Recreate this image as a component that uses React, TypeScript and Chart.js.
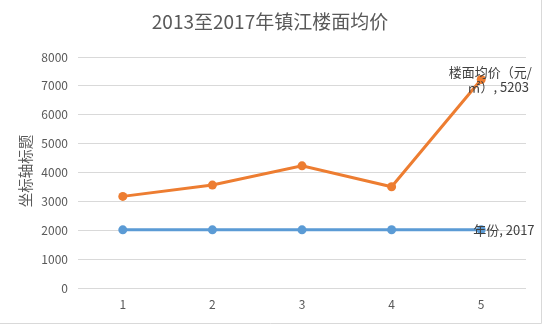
import React, { useEffect, useRef } from "react";
import { Chart, registerables } from "chart.js";

Chart.register(...registerables);

const categories = ["1", "2", "3", "4", "5"];
const yearValues = [2013, 2014, 2015, 2016, 2017];
const priceValues = [1160, 1550, 2215, 1490, 5203];
const titleText = "2013至2017年镇江楼面均价";
const yTitleText = "坐标轴标题";
const yearName = "年份";
const priceName = "楼面均价（元/㎡）";

const FONT = "'Noto Sans CJK SC', 'Noto Sans', sans-serif";

const decorPlugin = {
  id: "decor",
  afterDraw(chart: any) {
    const ctx = chart.ctx;
    ctx.save();
    // outer border
    ctx.strokeStyle = "#d9d9d9";
    ctx.lineWidth = 1;
    ctx.beginPath();
    ctx.moveTo(0, 323.5);
    ctx.lineTo(541.5, 323.5);
    ctx.lineTo(541.5, 0);
    ctx.stroke();
    // title
    ctx.fillStyle = "#595959";
    ctx.font = `19px ${FONT}`;
    ctx.textAlign = "center";
    ctx.textBaseline = "middle";
    ctx.fillText(titleText, 270, 22);
    // y title
    ctx.save();
    ctx.translate(25, 171);
    ctx.rotate(-Math.PI / 2);
    ctx.font = `14.5px ${FONT}`;
    ctx.fillText(yTitleText, 0, 0);
    ctx.restore();
    // data labels
    ctx.fillStyle = "#404040";
    ctx.font = `13px ${FONT}`;
    const m0 = chart.getDatasetMeta(0).data;
    const p0 = m0[m0.length - 1];
    ctx.textAlign = "left";
    ctx.fillText(`${yearName}, ${yearValues[yearValues.length - 1]}`, p0.x - 8, p0.y);
    const m1 = chart.getDatasetMeta(1).data;
    const p1 = m1[m1.length - 1];
    ctx.textAlign = "center";
    ctx.fillText("楼面均价（元/", p1.x + 9, p1.y - 7);
    ctx.fillText(`㎡）, ${priceValues[priceValues.length - 1]}`, p1.x + 17, p1.y + 8);
    ctx.restore();
  },
};

export default function App() {
  const ref = useRef<HTMLCanvasElement>(null);
  useEffect(() => {
    document.body.style.margin = "0";
    const chart = new Chart(ref.current!, {
      type: "line",
      data: {
        labels: categories,
        datasets: [
          {
            label: yearName,
            data: yearValues,
            borderColor: "#5B9BD5",
            backgroundColor: "#5B9BD5",
            borderWidth: 3,
            pointRadius: 4.5,
            pointBorderWidth: 0,
            tension: 0,
          },
          {
            label: priceName,
            data: priceValues,
            borderColor: "#ED7D31",
            backgroundColor: "#ED7D31",
            borderWidth: 3,
            pointRadius: 4.5,
            pointBorderWidth: 0,
            tension: 0,
          },
        ],
      },
      options: {
        animation: false,
        responsive: false,
        layout: { padding: { left: 0, top: 57, right: 19, bottom: 0 } },
        plugins: { legend: { display: false }, tooltip: { enabled: false }, title: { display: false } },
        scales: {
          x: {
            offset: true,
            grid: { display: false, drawTicks: false },
            border: { display: false },
            ticks: { color: "#595959", font: { family: FONT, size: 12 }, padding: 9 },
            afterFit: (s: any) => {
              s.height = 39;
            },
          },
          y: {
            stacked: true,
            min: 0,
            max: 8000,
            ticks: {
              stepSize: 1000,
              color: "#595959",
              font: { family: FONT, size: 12 },
              padding: 10,
              callback: (v: any) => String(v),
            },
            grid: { color: "#d9d9d9", drawTicks: false },
            border: { display: false },
            afterFit: (s: any) => {
              s.width = 78;
            },
          },
        },
      },
      plugins: [decorPlugin],
    });
    return () => chart.destroy();
  }, []);
  return <canvas ref={ref} width={545} height={327} style={{ display: "block", width: 545, height: 327 }} />;
}
